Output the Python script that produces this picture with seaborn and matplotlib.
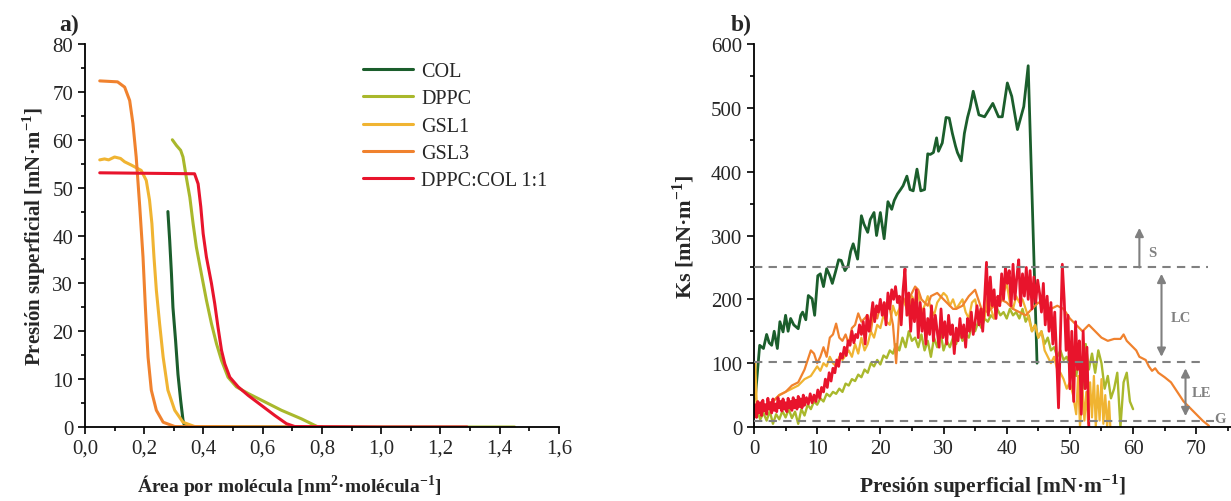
import seaborn as sns
import pandas as pd
import matplotlib.pyplot as plt
from matplotlib.ticker import MultipleLocator, FuncFormatter

sns.set_style("ticks")
plt.rcParams["font.family"] = ["Liberation Serif", "DejaVu Serif"]
plt.rcParams["mathtext.fontset"] = "custom"
plt.rcParams["mathtext.rm"] = "Liberation Serif"
plt.rcParams["mathtext.bf"] = "Liberation Serif:bold"

names = ["COL", "DPPC", "GSL1", "GSL3", "DPPC:COL 1:1"]
colors = {"COL": "#1b5e2c", "DPPC": "#a9b82c", "GSL1": "#f0b432",
          "GSL3": "#f0822e", "DPPC:COL 1:1": "#e8142c"}

# --- a) isotermas: area [nm2/molecula] vs presion [mN/m]
col_area = [0.280, 0.286, 0.292, 0.297, 0.306, 0.314, 0.323, 0.331, 0.337, 0.40, 0.60, 0.80]
col_pi = [45, 39, 32, 25, 18, 11, 5.6, 1.4, 0.1, 0, 0, 0]
dppc_area = [0.295, 0.309, 0.323, 0.331, 0.342, 0.354, 0.365, 0.376, 0.393, 0.410, 0.427,
             0.444, 0.461, 0.483, 0.511, 0.551, 0.596, 0.663, 0.731, 0.787, 1.00, 1.20, 1.45]
dppc_pi = [60, 58.8, 57.8, 56.4, 52.2, 48, 42.5, 37.6, 32, 26.5, 21.6,
           17.4, 13.9, 10.4, 8.4, 7, 5.6, 3.5, 1.7, 0, 0, 0, 0]
gsl1_area = [0.050, 0.066, 0.080, 0.100, 0.120, 0.134, 0.157, 0.190, 0.207, 0.218, 0.226,
             0.233, 0.241, 0.252, 0.264, 0.280, 0.303, 0.331, 0.370, 0.60, 0.80]
gsl1_pi = [55.8, 56, 55.8, 56.4, 56.1, 55.4, 54.7, 53.6, 51.5, 47.4, 42.5,
           35.5, 28.6, 21.6, 14.6, 7.7, 3.5, 1, 0.1, 0, 0]
gsl3_area = [0.050, 0.110, 0.134, 0.151, 0.162, 0.173, 0.185, 0.196, 0.204, 0.213, 0.224,
             0.241, 0.264, 0.303, 0.50, 0.70]
gsl3_pi = [72.3, 72.1, 71, 68.2, 63.4, 56.4, 46, 35.5, 25, 14.6, 7.7,
           3.5, 1, 0.1, 0, 0]
mix_area = [0.050, 0.370, 0.382, 0.391, 0.399, 0.410, 0.427, 0.438, 0.449, 0.461, 0.472,
            0.489, 0.517, 0.551, 0.596, 0.641, 0.680, 0.708, 1.00, 1.29]
mix_pi = [53.1, 52.9, 50.8, 46, 40.4, 35.5, 30, 25.8, 20.9, 16, 13.2,
          10.4, 8.4, 6.6, 4.5, 2.4, 0.7, 0.1, 0, 0]

# --- b) modulo de compresibilidad Ks vs presion superficial
col_p = [0.2, 0.9, 1.5, 2.0, 2.4, 2.8, 3.2, 3.7, 4.1, 4.6, 5.0, 5.4, 5.8, 6.3, 7.0, 7.4, 7.7,
         8.2, 8.6, 9.2, 9.6, 10.1, 10.5, 11.0, 11.5, 12.0, 12.4, 12.9, 13.4, 13.8, 14.4, 14.9,
         15.3, 15.7, 16.4, 17.0, 17.4, 18.0, 18.4, 19.0, 19.4, 20.0, 20.6, 21.2, 21.8, 22.2,
         22.7, 23.2, 23.6, 24.2, 24.7, 25.2, 25.8, 26.4, 27.0, 27.5, 27.9, 28.4, 28.9, 29.2,
         29.8, 30.4, 30.9, 31.4, 31.9, 32.2, 32.8, 33.3, 33.8, 34.2, 34.7, 35.6, 36.5, 37.8,
         38.7, 39.3, 40.1, 40.8, 41.7, 42.7, 43.4, 44.8]
col_k = [45, 128, 123, 145, 132, 128, 150, 123, 165, 149, 175, 150, 170, 160, 154, 175, 180,
         168, 206, 201, 175, 237, 240, 220, 248, 237, 225, 243, 262, 261, 245, 253,
         275, 287, 263, 331, 318, 305, 325, 336, 300, 336, 295, 353, 341, 355,
         365, 372, 378, 393, 372, 370, 404, 370, 372, 428, 427, 430, 453, 432,
         445, 485, 484, 460, 440, 430, 417, 460, 485, 500, 526, 489, 486, 507,
         486, 486, 539, 518, 466, 502, 566, 100]

dppc_p = [0.0, 0.5, 1.0, 1.5, 2.0, 2.5, 3.0, 3.5, 4.0, 4.5, 5.0, 5.5, 6.0, 6.5, 7.0, 7.5, 8.0,
          8.5, 9.0, 9.5, 10.0, 10.5, 11.0, 11.5, 12.0, 12.5, 13.0, 13.5, 14.0, 14.5, 15.0,
          15.5, 16.0, 16.5, 17.0, 17.5, 18.0, 18.5, 19.0, 19.5, 20.0, 20.5, 21.0, 21.5, 22.0,
          22.5, 23.0, 23.5, 24.0, 24.5, 25.0, 25.5, 26.0, 26.5, 27.0, 27.5, 28.0, 28.5, 29.0,
          29.5, 30.0, 30.5, 31.0, 31.5, 32.0, 32.5, 33.0, 33.5, 34.0, 34.5, 35.0, 35.5, 36.0,
          36.5, 37.0, 37.5, 38.0, 38.5, 39.0, 39.5, 40.0, 40.5, 41.0, 41.5, 42.0, 42.5, 43.0,
          43.5, 44.0, 44.5, 45.0, 45.5, 46.0, 46.5, 47.0, 47.5, 48.0, 48.5, 49.0, 49.5, 50.0,
          50.5, 51.0, 51.5, 52.0, 52.5, 53.0, 53.5, 54.0, 54.5, 55.0, 55.5, 56.0, 56.5, 57.0,
          57.5, 58.0, 58.5, 59.0, 59.5, 60.0]
dppc_k = [15, 25, 12, 22, 10, 25, 5, 20, 12, 25, 15, 28, 14, 24, 5, 28, 18,
          35, 28, 40, 35, 45, 40, 52, 48, 55, 52, 60, 55, 68, 65,
          75, 72, 82, 78, 90, 85, 100, 95, 105, 98, 112, 108, 120, 115,
          130, 120, 140, 125, 150, 135, 140, 125, 145, 120, 135, 110, 140, 125,
          150, 120, 135, 125, 140, 130, 150, 135, 145, 140, 160, 150, 165, 155,
          170, 165, 175, 170, 185, 175, 180, 170, 185, 175, 180, 170, 185, 165,
          175, 150, 160, 140, 150, 130, 140, 120, 125, 110, 120, 105, 110, 95,
          100, 80, 110, 60, 130, 90, 115, 85, 120, 100, 60, 80, 45, 60,
          85, 0, 70, 85, 40, 28]

gsl1_p = [0.0, 0.2, 0.5, 1.0, 2.0, 3.0, 4.0, 5.0, 6.0, 7.0, 8.0, 9.0, 10.0, 10.5, 11.0, 11.5,
          12.0, 12.5, 13.0, 13.5, 14.0, 15.0, 15.5, 16.0, 16.5, 17.0, 17.5, 18.0, 18.5, 19.0,
          19.5, 20.0, 20.5, 21.0, 21.5, 22.0, 22.5, 23.0, 23.5, 24.0, 24.5, 25.0, 25.5, 26.0,
          26.5, 27.0, 27.5, 28.0, 28.5, 29.0, 30.0, 30.5, 31.0, 31.5, 32.0, 33.0, 33.5, 34.0,
          34.5, 35.0, 35.5, 36.0, 36.5, 37.0, 37.5, 38.0, 38.5, 39.0, 39.5, 40.0, 40.5, 41.0,
          41.5, 42.0, 42.5, 43.0, 43.5, 44.0, 44.5, 45.0, 45.5, 46.0, 46.5, 47.0, 47.5, 48.0,
          48.5, 49.0, 49.5, 50.0, 50.5, 51.0, 51.3, 51.6, 52.0, 52.3, 52.6, 52.9, 53.2, 53.5,
          53.8, 54.1, 54.4, 54.7, 55.0, 55.3, 55.6, 55.9, 56.2, 56.4]
gsl1_k = [30, 100, 20, 30, 35, 40, 50, 55, 60, 65, 75, 80, 95, 88, 100, 95,
          110, 100, 95, 110, 105, 120, 110, 130, 115, 140, 120, 130, 150, 140,
          160, 155, 175, 165, 160, 190, 175, 185, 200, 190, 175, 205, 195, 210,
          180, 190, 205, 185, 175, 195, 210, 205, 190, 200, 185, 200, 180, 170,
          195, 200, 175, 185, 170, 205, 185, 170, 190, 195, 210, 225, 195, 185,
          205, 195, 200, 185, 170, 150, 160, 140, 150, 120, 110, 100, 110, 90,
          85, 75, 60, 70, 50, 20, 80, 0, 60, 10, 55, 5, 70, 15,
          80, 0, 65, 10, 75, 5, 50, 0, 40, 0]

gsl3_p = [0.0, 1.0, 2.0, 3.0, 4.0, 5.0, 6.0, 7.0, 8.0, 9.0, 9.5, 10.0, 10.5, 11.0, 11.5, 12.0,
          12.5, 13.0, 13.5, 14.0, 14.5, 15.0, 15.5, 16.0, 16.5, 17.0, 17.5, 18.0, 18.5, 19.0,
          19.5, 20.0, 20.5, 21.0, 21.5, 22.0, 22.5, 23.0, 23.5, 24.0, 24.5, 25.0, 25.5, 26.0,
          26.5, 27.0, 27.5, 28.0, 29.0, 30.0, 30.5, 31.0, 31.5, 32.0, 33.0, 34.0, 35.0, 35.5,
          36.0, 37.0, 38.0, 39.0, 40.0, 41.0, 42.0, 43.0, 44.0, 45.0, 46.0, 47.0, 48.0, 49.0,
          50.0, 51.0, 52.0, 53.0, 54.0, 55.0, 56.0, 57.0, 58.0, 58.5, 59.0, 60.0, 60.5, 61.0,
          62.0, 62.5, 63.0, 63.5, 64.0, 65.0, 66.0, 67.0, 68.0, 69.0, 70.0, 71.0, 72.0]
gsl3_k = [15, 25, 35, 40, 50, 55, 65, 70, 90, 120, 115, 100, 110, 125, 110, 140,
          145, 162, 140, 135, 145, 130, 155, 160, 178, 165, 170, 175, 150, 185,
          170, 190, 180, 195, 185, 160, 100, 180, 205, 195, 200, 210, 220, 215,
          200, 195, 190, 205, 210, 200, 195, 190, 185, 185, 190, 205, 215, 200,
          185, 180, 190, 200, 195, 185, 180, 175, 185, 195, 190, 185, 190, 185,
          170, 160, 150, 160, 150, 140, 135, 138, 138, 145, 135, 125, 120, 110,
          105, 95, 88, 92, 85, 78, 70, 55, 40, 30, 20, 10, 2]

mix_p = [0.0, 0.2, 0.4, 0.6, 0.8, 1.0, 1.2, 1.4, 1.6, 1.8, 2.0, 2.2, 2.4, 2.6, 2.8, 3.0, 3.2,
         3.4, 3.6, 3.8, 4.0, 4.2, 4.4, 4.6, 4.8, 5.0, 5.2, 5.4, 5.6, 5.8, 6.0, 6.2, 6.4, 6.6,
         6.8, 7.0, 7.2, 7.4, 7.6, 7.8, 8.0, 8.3, 8.6, 8.9, 9.2, 9.5, 9.8, 10.1, 10.4, 10.7,
         11.0, 11.3, 11.6, 11.9, 12.2, 12.5, 12.8, 13.1, 13.4, 13.7, 14.0, 14.3, 14.6, 14.9,
         15.2, 15.5, 15.8, 16.1, 16.4, 16.7, 17.0, 17.3, 17.6, 17.9, 18.2, 18.5, 18.8, 19.1,
         19.4, 19.7, 20.0, 20.3, 20.6, 20.9, 21.2, 21.5, 21.8, 22.1, 22.4, 22.7, 23.0, 23.3,
         23.6, 23.9, 24.2, 24.5, 24.8, 25.1, 25.4, 25.7, 26.0, 26.3, 26.6, 26.9, 27.2, 27.5,
         27.8, 28.1, 28.4, 28.7, 29.0, 29.3, 29.6, 29.9, 30.2, 30.5, 30.8, 31.1, 31.4, 31.7,
         32.0, 32.3, 32.6, 32.9, 33.2, 33.5, 33.8, 34.1, 34.4, 34.7, 35.0, 35.3, 35.6, 35.9,
         36.2, 36.5, 36.8, 37.1, 37.4, 37.7, 38.0, 38.3, 38.6, 38.9, 39.2, 39.5, 39.8, 40.1,
         40.4, 40.7, 41.0, 41.3, 41.6, 41.9, 42.2, 42.5, 42.8, 43.1, 43.4, 43.7, 44.0, 44.3,
         44.6, 44.9, 45.2, 45.5, 45.8, 46.1, 46.4, 46.7, 47.0, 47.3, 47.6, 47.9, 48.2, 48.5,
         48.8, 49.1, 49.4, 49.7, 50.0, 50.3, 50.6, 50.9, 51.2, 51.5, 51.8, 52.1, 52.4, 52.7,
         53.0]
mix_k = [20, 35, 15, 40, 22, 38, 18, 42, 25, 35, 20, 45, 28, 38, 22, 44, 26,
         36, 24, 46, 30, 40, 25, 44, 28, 38, 24, 45, 30, 40, 26, 46, 30, 42,
         28, 48, 32, 44, 30, 50, 34, 46, 36, 52, 38, 50, 40, 58, 45, 62,
         55, 75, 62, 85, 72, 92, 85, 105, 95, 115, 108, 125, 112, 135,
         128, 150, 132, 145, 140, 160, 145, 165, 130, 175, 150, 170, 195, 165,
         190, 180, 200, 175, 195, 160, 210, 185, 215, 200, 220, 195, 205, 160,
         215, 248, 175, 210, 150, 200, 165, 215, 140, 195, 150, 185, 130, 170,
         145, 190, 135, 175, 150, 125, 185, 140, 165, 130, 175, 145, 160, 115,
         155, 135, 170, 140, 160, 125, 170, 150, 180, 145, 165, 190, 160, 185,
         150, 200, 258, 175, 235, 190, 215, 170, 205, 190, 240, 200, 250, 225,
         245, 190, 255, 200, 235, 262, 190, 240, 205, 250, 200, 245, 185, 235,
         195, 230, 210, 180, 225, 160, 205, 150, 195, 130, 180, 110, 30, 140,
         255, 200, 120, 175, 60, 150, 40, 165, 90, 135, 20, 150, 60, 125,
         0]

# phase boundaries (Ks) drawn as dashed lines
phase_k = [250, 102, 10]

iso = pd.concat([
    pd.DataFrame({"area": a, "pi": p, "muestra": n})
    for n, a, p in zip(names, [col_area, dppc_area, gsl1_area, gsl3_area, mix_area],
                       [col_pi, dppc_pi, gsl1_pi, gsl3_pi, mix_pi])
])
ks = pd.concat([
    pd.DataFrame({"p": a, "k": p, "muestra": n})
    for n, a, p in zip(names, [col_p, dppc_p, gsl1_p, gsl3_p, mix_p],
                       [col_k, dppc_k, gsl1_k, gsl3_k, mix_k])
])

fig = plt.figure(figsize=(12.31, 5.02), dpi=100)
ax1 = fig.add_axes([0.0690, 0.1474, 0.3851, 0.7629])
ax2 = fig.add_axes([0.6125, 0.1474, 0.3875, 0.7629])

sns.lineplot(data=iso, x="area", y="pi", hue="muestra", hue_order=names, palette=colors,
             estimator=None, sort=False, linewidth=2.2, ax=ax1)
ax1.set_xlim(0, 1.6)
ax1.set_ylim(0, 80)
ax1.xaxis.set_major_locator(MultipleLocator(0.2))
ax1.xaxis.set_minor_locator(MultipleLocator(0.1))
ax1.yaxis.set_major_locator(MultipleLocator(10))
ax1.yaxis.set_minor_locator(MultipleLocator(5))
ax1.xaxis.set_major_formatter(FuncFormatter(lambda v, _: f"{v:.1f}".replace(".", ",")))
ax1.set_xlabel(r"Área por molécula [nm$^{\mathbf{2}}$·molécula$^{\mathbf{-1}}$]",
               fontsize=14, fontweight="bold")
ax1.xaxis.set_label_coords(0.43, -0.12)
ax1.set_ylabel(r"Presión superficial [mN·m$^{\mathbf{-1}}$]", fontsize=15,
               fontweight="bold", labelpad=3)
ax1.legend(loc="upper left", bbox_to_anchor=(0.548, 1.0), frameon=False, fontsize=14.5,
           handlelength=2.5, labelspacing=0.4, handletextpad=0.4)
for l in ax1.get_legend().get_lines():
    l.set_linewidth(2.2)

widths = {"COL": 2.0, "DPPC": 1.7, "GSL1": 1.6, "GSL3": 1.6, "DPPC:COL 1:1": 2.0}
for n in names:
    sns.lineplot(data=ks[ks["muestra"] == n], x="p", y="k", color=colors[n],
                 estimator=None, sort=False, linewidth=widths[n], legend=False, ax=ax2)
ax2.set_xlim(0, 75.5)
ax2.set_ylim(0, 600)
ax2.xaxis.set_major_locator(MultipleLocator(10))
ax2.xaxis.set_minor_locator(MultipleLocator(5))
ax2.yaxis.set_major_locator(MultipleLocator(100))
ax2.yaxis.set_minor_locator(MultipleLocator(50))
ax2.set_xlabel(r"Presión superficial [mN·m$^{\mathbf{-1}}$]", fontsize=15.5,
               fontweight="bold", labelpad=10)
ax2.set_ylabel(r"Ks [mN·m$^{\mathbf{-1}}$]", fontsize=16, fontweight="bold", labelpad=10)

grey = "#808080"
for kv, xe in zip(phase_k, [71.8, 71.2, 72.8]):
    ax2.plot([0, xe], [kv, kv], ls=(0, (4, 3)), color=grey, lw=1.5, zorder=5)
arr = dict(color=grey, lw=1.5, shrinkA=0, shrinkB=0)
ax2.annotate("", xy=(61.0, 312), xytext=(61.0, 250),
             arrowprops=dict(arrowstyle="-|>,head_width=0.25,head_length=0.5", **arr))
ax2.annotate("", xy=(64.5, 240), xytext=(64.5, 110),
             arrowprops=dict(arrowstyle="<|-|>,head_width=0.25,head_length=0.5", **arr))
ax2.annotate("", xy=(68.3, 92), xytext=(68.3, 17),
             arrowprops=dict(arrowstyle="<|-|>,head_width=0.25,head_length=0.5", **arr))
for txt, xx, yy in [("S", 63.0, 273), ("LC", 67.5, 172), ("LE", 70.9, 54), ("G", 73.7, 13)]:
    ax2.text(xx, yy, txt, color=grey, fontsize=10.5, fontweight="bold", ha="center", va="center")

for ax in (ax1, ax2):
    sns.despine(ax=ax)
    ax.tick_params(axis="both", which="major", labelsize=15, length=5, width=1.2, color="black")
    ax.tick_params(axis="both", which="minor", length=3, width=1.2, color="black")
    for s in ("left", "bottom"):
        ax.spines[s].set_linewidth(1.3)
        ax.spines[s].set_color("black")

fig.text(0.056, 0.95, "a)", fontsize=17, fontweight="bold", ha="center", va="center")
fig.text(0.602, 0.95, "b)", fontsize=17, fontweight="bold", ha="center", va="center")

fig.savefig("out.png", dpi=100)
